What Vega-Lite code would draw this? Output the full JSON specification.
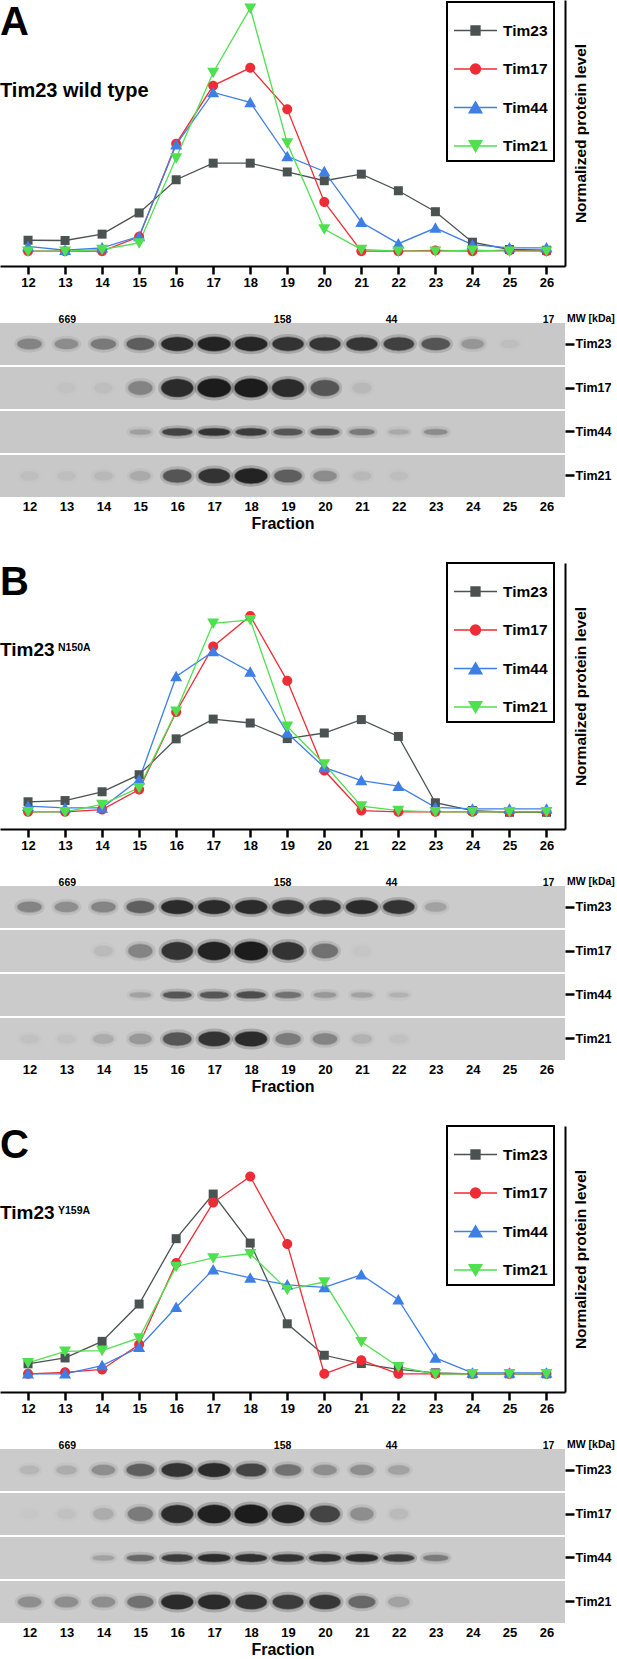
{
  "$schema": "https://vega.github.io/schema/vega-lite/v6.json",
  "padding": 0,
  "background": "white",
  "config": {
    "font": "Liberation Sans",
    "view": {"stroke": null},
    "axis": {"labelFont": "Liberation Sans", "titleFont": "Liberation Sans", "labelFontWeight": "bold", "titleFontWeight": "bold", "labelColor": "black", "titleColor": "black", "grid": false, "labelFlush": false, "labelOverlap": false},
    "legend": {"labelFont": "Liberation Sans"},
    "title": {"font": "Liberation Sans", "subtitleFont": "Liberation Sans", "fontWeight": "bold", "subtitleFontWeight": "bold", "color": "black", "subtitleColor": "black"},
    "point": {"opacity": 1}
  },
  "datasets": {
    "levelsA": [
      {"protein": "Tim23", "fraction": 12, "level": 4.5}, {"protein": "Tim23", "fraction": 13, "level": 4.4}, {"protein": "Tim23", "fraction": 14, "level": 7.0}, {"protein": "Tim23", "fraction": 15, "level": 15.7}, {"protein": "Tim23", "fraction": 16, "level": 29.3}, {"protein": "Tim23", "fraction": 17, "level": 36.1}, {"protein": "Tim23", "fraction": 18, "level": 36.1}, {"protein": "Tim23", "fraction": 19, "level": 32.5}, {"protein": "Tim23", "fraction": 20, "level": 28.9}, {"protein": "Tim23", "fraction": 21, "level": 31.6}, {"protein": "Tim23", "fraction": 22, "level": 24.8}, {"protein": "Tim23", "fraction": 23, "level": 16.2}, {"protein": "Tim23", "fraction": 24, "level": 3.7}, {"protein": "Tim23", "fraction": 25, "level": 0.7}, {"protein": "Tim23", "fraction": 26, "level": 0.4},
      {"protein": "Tim17", "fraction": 12, "level": 0}, {"protein": "Tim17", "fraction": 13, "level": 0}, {"protein": "Tim17", "fraction": 14, "level": 0}, {"protein": "Tim17", "fraction": 15, "level": 5.9}, {"protein": "Tim17", "fraction": 16, "level": 44.1}, {"protein": "Tim17", "fraction": 17, "level": 67.9}, {"protein": "Tim17", "fraction": 18, "level": 75.2}, {"protein": "Tim17", "fraction": 19, "level": 58.2}, {"protein": "Tim17", "fraction": 20, "level": 20.2}, {"protein": "Tim17", "fraction": 21, "level": 0}, {"protein": "Tim17", "fraction": 22, "level": 0}, {"protein": "Tim17", "fraction": 23, "level": 0.3}, {"protein": "Tim17", "fraction": 24, "level": 0}, {"protein": "Tim17", "fraction": 25, "level": 0.4}, {"protein": "Tim17", "fraction": 26, "level": 0},
      {"protein": "Tim44", "fraction": 12, "level": 2.0}, {"protein": "Tim44", "fraction": 13, "level": 0.4}, {"protein": "Tim44", "fraction": 14, "level": 1.4}, {"protein": "Tim44", "fraction": 15, "level": 6.1}, {"protein": "Tim44", "fraction": 16, "level": 43.7}, {"protein": "Tim44", "fraction": 17, "level": 65.1}, {"protein": "Tim44", "fraction": 18, "level": 61.0}, {"protein": "Tim44", "fraction": 19, "level": 38.9}, {"protein": "Tim44", "fraction": 20, "level": 32.7}, {"protein": "Tim44", "fraction": 21, "level": 11.9}, {"protein": "Tim44", "fraction": 22, "level": 3.1}, {"protein": "Tim44", "fraction": 23, "level": 9.5}, {"protein": "Tim44", "fraction": 24, "level": 2.7}, {"protein": "Tim44", "fraction": 25, "level": 1.4}, {"protein": "Tim44", "fraction": 26, "level": 1.4},
      {"protein": "Tim21", "fraction": 12, "level": 0}, {"protein": "Tim21", "fraction": 13, "level": 0}, {"protein": "Tim21", "fraction": 14, "level": 0.7}, {"protein": "Tim21", "fraction": 15, "level": 3.4}, {"protein": "Tim21", "fraction": 16, "level": 38.2}, {"protein": "Tim21", "fraction": 17, "level": 73.3}, {"protein": "Tim21", "fraction": 18, "level": 99.6}, {"protein": "Tim21", "fraction": 19, "level": 44.3}, {"protein": "Tim21", "fraction": 20, "level": 9.1}, {"protein": "Tim21", "fraction": 21, "level": 0.7}, {"protein": "Tim21", "fraction": 22, "level": 0}, {"protein": "Tim21", "fraction": 23, "level": 0}, {"protein": "Tim21", "fraction": 24, "level": 0.4}, {"protein": "Tim21", "fraction": 25, "level": 0}, {"protein": "Tim21", "fraction": 26, "level": 0}
    ],
    "levelsB": [
      {"protein": "Tim23", "fraction": 12, "level": 5.1}, {"protein": "Tim23", "fraction": 13, "level": 5.6}, {"protein": "Tim23", "fraction": 14, "level": 9.2}, {"protein": "Tim23", "fraction": 15, "level": 16.2}, {"protein": "Tim23", "fraction": 16, "level": 30.9}, {"protein": "Tim23", "fraction": 17, "level": 39.0}, {"protein": "Tim23", "fraction": 18, "level": 37.4}, {"protein": "Tim23", "fraction": 19, "level": 31.0}, {"protein": "Tim23", "fraction": 20, "level": 33.3}, {"protein": "Tim23", "fraction": 21, "level": 38.8}, {"protein": "Tim23", "fraction": 22, "level": 31.9}, {"protein": "Tim23", "fraction": 23, "level": 4.7}, {"protein": "Tim23", "fraction": 24, "level": 1.5}, {"protein": "Tim23", "fraction": 25, "level": 0.8}, {"protein": "Tim23", "fraction": 26, "level": 0.8},
      {"protein": "Tim17", "fraction": 12, "level": 1.0}, {"protein": "Tim17", "fraction": 13, "level": 1.0}, {"protein": "Tim17", "fraction": 14, "level": 1.9}, {"protein": "Tim17", "fraction": 15, "level": 10.1}, {"protein": "Tim17", "fraction": 16, "level": 41.9}, {"protein": "Tim17", "fraction": 17, "level": 68.8}, {"protein": "Tim17", "fraction": 18, "level": 81.3}, {"protein": "Tim17", "fraction": 19, "level": 54.7}, {"protein": "Tim17", "fraction": 20, "level": 17.9}, {"protein": "Tim17", "fraction": 21, "level": 1.5}, {"protein": "Tim17", "fraction": 22, "level": 1.0}, {"protein": "Tim17", "fraction": 23, "level": 1.0}, {"protein": "Tim17", "fraction": 24, "level": 1.0}, {"protein": "Tim17", "fraction": 25, "level": 1.0}, {"protein": "Tim17", "fraction": 26, "level": 1.0},
      {"protein": "Tim44", "fraction": 12, "level": 3.3}, {"protein": "Tim44", "fraction": 13, "level": 2.6}, {"protein": "Tim44", "fraction": 14, "level": 2.6}, {"protein": "Tim44", "fraction": 15, "level": 14.2}, {"protein": "Tim44", "fraction": 16, "level": 56.5}, {"protein": "Tim44", "fraction": 17, "level": 66.7}, {"protein": "Tim44", "fraction": 18, "level": 58.3}, {"protein": "Tim44", "fraction": 19, "level": 33.3}, {"protein": "Tim44", "fraction": 20, "level": 19.2}, {"protein": "Tim44", "fraction": 21, "level": 13.8}, {"protein": "Tim44", "fraction": 22, "level": 11.5}, {"protein": "Tim44", "fraction": 23, "level": 2.8}, {"protein": "Tim44", "fraction": 24, "level": 2.2}, {"protein": "Tim44", "fraction": 25, "level": 2.2}, {"protein": "Tim44", "fraction": 26, "level": 2.2},
      {"protein": "Tim21", "fraction": 12, "level": 1.0}, {"protein": "Tim21", "fraction": 13, "level": 1.0}, {"protein": "Tim21", "fraction": 14, "level": 4.0}, {"protein": "Tim21", "fraction": 15, "level": 10.8}, {"protein": "Tim21", "fraction": 16, "level": 42.2}, {"protein": "Tim21", "fraction": 17, "level": 78.3}, {"protein": "Tim21", "fraction": 18, "level": 79.7}, {"protein": "Tim21", "fraction": 19, "level": 36.0}, {"protein": "Tim21", "fraction": 20, "level": 20.6}, {"protein": "Tim21", "fraction": 21, "level": 3.3}, {"protein": "Tim21", "fraction": 22, "level": 1.5}, {"protein": "Tim21", "fraction": 23, "level": 1.0}, {"protein": "Tim21", "fraction": 24, "level": 1.0}, {"protein": "Tim21", "fraction": 25, "level": 1.0}, {"protein": "Tim21", "fraction": 26, "level": 1.0}
    ],
    "levelsC": [
      {"protein": "Tim23", "fraction": 12, "level": 5.5}, {"protein": "Tim23", "fraction": 13, "level": 7.9}, {"protein": "Tim23", "fraction": 14, "level": 14.7}, {"protein": "Tim23", "fraction": 15, "level": 30.0}, {"protein": "Tim23", "fraction": 16, "level": 56.8}, {"protein": "Tim23", "fraction": 17, "level": 75.1}, {"protein": "Tim23", "fraction": 18, "level": 55.0}, {"protein": "Tim23", "fraction": 19, "level": 21.9}, {"protein": "Tim23", "fraction": 20, "level": 9.0}, {"protein": "Tim23", "fraction": 21, "level": 5.6}, {"protein": "Tim23", "fraction": 22, "level": 3.2}, {"protein": "Tim23", "fraction": 23, "level": 1.8}, {"protein": "Tim23", "fraction": 24, "level": 1.4}, {"protein": "Tim23", "fraction": 25, "level": 1.4}, {"protein": "Tim23", "fraction": 26, "level": 1.4},
      {"protein": "Tim17", "fraction": 12, "level": 1.4}, {"protein": "Tim17", "fraction": 13, "level": 2.0}, {"protein": "Tim17", "fraction": 14, "level": 3.2}, {"protein": "Tim17", "fraction": 15, "level": 13.4}, {"protein": "Tim17", "fraction": 16, "level": 46.8}, {"protein": "Tim17", "fraction": 17, "level": 71.6}, {"protein": "Tim17", "fraction": 18, "level": 82.3}, {"protein": "Tim17", "fraction": 19, "level": 54.6}, {"protein": "Tim17", "fraction": 20, "level": 1.4}, {"protein": "Tim17", "fraction": 21, "level": 7.0}, {"protein": "Tim17", "fraction": 22, "level": 1.4}, {"protein": "Tim17", "fraction": 23, "level": 1.4}, {"protein": "Tim17", "fraction": 24, "level": 1.4}, {"protein": "Tim17", "fraction": 25, "level": 1.4}, {"protein": "Tim17", "fraction": 26, "level": 1.4},
      {"protein": "Tim44", "fraction": 12, "level": 1.4}, {"protein": "Tim44", "fraction": 13, "level": 1.4}, {"protein": "Tim44", "fraction": 14, "level": 4.8}, {"protein": "Tim44", "fraction": 15, "level": 12.3}, {"protein": "Tim44", "fraction": 16, "level": 28.7}, {"protein": "Tim44", "fraction": 17, "level": 44.1}, {"protein": "Tim44", "fraction": 18, "level": 40.7}, {"protein": "Tim44", "fraction": 19, "level": 37.9}, {"protein": "Tim44", "fraction": 20, "level": 36.8}, {"protein": "Tim44", "fraction": 21, "level": 42.0}, {"protein": "Tim44", "fraction": 22, "level": 31.8}, {"protein": "Tim44", "fraction": 23, "level": 7.9}, {"protein": "Tim44", "fraction": 24, "level": 1.8}, {"protein": "Tim44", "fraction": 25, "level": 1.8}, {"protein": "Tim44", "fraction": 26, "level": 1.8},
      {"protein": "Tim21", "fraction": 12, "level": 5.9}, {"protein": "Tim21", "fraction": 13, "level": 10.6}, {"protein": "Tim21", "fraction": 14, "level": 10.9}, {"protein": "Tim21", "fraction": 15, "level": 16.1}, {"protein": "Tim21", "fraction": 16, "level": 45.4}, {"protein": "Tim21", "fraction": 17, "level": 48.9}, {"protein": "Tim21", "fraction": 18, "level": 50.6}, {"protein": "Tim21", "fraction": 19, "level": 35.9}, {"protein": "Tim21", "fraction": 20, "level": 39.0}, {"protein": "Tim21", "fraction": 21, "level": 14.5}, {"protein": "Tim21", "fraction": 22, "level": 4.3}, {"protein": "Tim21", "fraction": 23, "level": 1.3}, {"protein": "Tim21", "fraction": 24, "level": 1.4}, {"protein": "Tim21", "fraction": 25, "level": 1.4}, {"protein": "Tim21", "fraction": 26, "level": 1.4}
    ],
    "bandsA": [
      {"protein": "Tim23", "fraction": 12, "intensity": 0.35}, {"protein": "Tim23", "fraction": 13, "intensity": 0.3}, {"protein": "Tim23", "fraction": 14, "intensity": 0.4}, {"protein": "Tim23", "fraction": 15, "intensity": 0.55}, {"protein": "Tim23", "fraction": 16, "intensity": 0.85}, {"protein": "Tim23", "fraction": 17, "intensity": 0.9}, {"protein": "Tim23", "fraction": 18, "intensity": 0.88}, {"protein": "Tim23", "fraction": 19, "intensity": 0.8}, {"protein": "Tim23", "fraction": 20, "intensity": 0.78}, {"protein": "Tim23", "fraction": 21, "intensity": 0.78}, {"protein": "Tim23", "fraction": 22, "intensity": 0.72}, {"protein": "Tim23", "fraction": 23, "intensity": 0.6}, {"protein": "Tim23", "fraction": 24, "intensity": 0.25}, {"protein": "Tim23", "fraction": 25, "intensity": 0.05},
      {"protein": "Tim17", "fraction": 13, "intensity": 0.03}, {"protein": "Tim17", "fraction": 14, "intensity": 0.05}, {"protein": "Tim17", "fraction": 15, "intensity": 0.35}, {"protein": "Tim17", "fraction": 16, "intensity": 0.85}, {"protein": "Tim17", "fraction": 17, "intensity": 0.95}, {"protein": "Tim17", "fraction": 18, "intensity": 0.95}, {"protein": "Tim17", "fraction": 19, "intensity": 0.85}, {"protein": "Tim17", "fraction": 20, "intensity": 0.6}, {"protein": "Tim17", "fraction": 21, "intensity": 0.08},
      {"protein": "Tim44", "fraction": 15, "intensity": 0.2}, {"protein": "Tim44", "fraction": 16, "intensity": 0.7}, {"protein": "Tim44", "fraction": 17, "intensity": 0.8}, {"protein": "Tim44", "fraction": 18, "intensity": 0.75}, {"protein": "Tim44", "fraction": 19, "intensity": 0.6}, {"protein": "Tim44", "fraction": 20, "intensity": 0.6}, {"protein": "Tim44", "fraction": 21, "intensity": 0.4}, {"protein": "Tim44", "fraction": 22, "intensity": 0.15}, {"protein": "Tim44", "fraction": 23, "intensity": 0.3},
      {"protein": "Tim21", "fraction": 12, "intensity": 0.05}, {"protein": "Tim21", "fraction": 13, "intensity": 0.05}, {"protein": "Tim21", "fraction": 14, "intensity": 0.08}, {"protein": "Tim21", "fraction": 15, "intensity": 0.15}, {"protein": "Tim21", "fraction": 16, "intensity": 0.6}, {"protein": "Tim21", "fraction": 17, "intensity": 0.8}, {"protein": "Tim21", "fraction": 18, "intensity": 0.9}, {"protein": "Tim21", "fraction": 19, "intensity": 0.55}, {"protein": "Tim21", "fraction": 20, "intensity": 0.3}, {"protein": "Tim21", "fraction": 21, "intensity": 0.08}, {"protein": "Tim21", "fraction": 22, "intensity": 0.05}
    ],
    "bandsB": [
      {"protein": "Tim23", "fraction": 12, "intensity": 0.35}, {"protein": "Tim23", "fraction": 13, "intensity": 0.3}, {"protein": "Tim23", "fraction": 14, "intensity": 0.35}, {"protein": "Tim23", "fraction": 15, "intensity": 0.55}, {"protein": "Tim23", "fraction": 16, "intensity": 0.85}, {"protein": "Tim23", "fraction": 17, "intensity": 0.85}, {"protein": "Tim23", "fraction": 18, "intensity": 0.85}, {"protein": "Tim23", "fraction": 19, "intensity": 0.8}, {"protein": "Tim23", "fraction": 20, "intensity": 0.8}, {"protein": "Tim23", "fraction": 21, "intensity": 0.85}, {"protein": "Tim23", "fraction": 22, "intensity": 0.8}, {"protein": "Tim23", "fraction": 23, "intensity": 0.2},
      {"protein": "Tim17", "fraction": 14, "intensity": 0.08}, {"protein": "Tim17", "fraction": 15, "intensity": 0.35}, {"protein": "Tim17", "fraction": 16, "intensity": 0.8}, {"protein": "Tim17", "fraction": 17, "intensity": 0.9}, {"protein": "Tim17", "fraction": 18, "intensity": 0.95}, {"protein": "Tim17", "fraction": 19, "intensity": 0.8}, {"protein": "Tim17", "fraction": 20, "intensity": 0.45}, {"protein": "Tim17", "fraction": 21, "intensity": 0.03},
      {"protein": "Tim44", "fraction": 15, "intensity": 0.2}, {"protein": "Tim44", "fraction": 16, "intensity": 0.6}, {"protein": "Tim44", "fraction": 17, "intensity": 0.6}, {"protein": "Tim44", "fraction": 18, "intensity": 0.65}, {"protein": "Tim44", "fraction": 19, "intensity": 0.45}, {"protein": "Tim44", "fraction": 20, "intensity": 0.25}, {"protein": "Tim44", "fraction": 21, "intensity": 0.2}, {"protein": "Tim44", "fraction": 22, "intensity": 0.12},
      {"protein": "Tim21", "fraction": 12, "intensity": 0.05}, {"protein": "Tim21", "fraction": 13, "intensity": 0.05}, {"protein": "Tim21", "fraction": 14, "intensity": 0.15}, {"protein": "Tim21", "fraction": 15, "intensity": 0.25}, {"protein": "Tim21", "fraction": 16, "intensity": 0.6}, {"protein": "Tim21", "fraction": 17, "intensity": 0.8}, {"protein": "Tim21", "fraction": 18, "intensity": 0.85}, {"protein": "Tim21", "fraction": 19, "intensity": 0.4}, {"protein": "Tim21", "fraction": 20, "intensity": 0.35}, {"protein": "Tim21", "fraction": 21, "intensity": 0.12}, {"protein": "Tim21", "fraction": 22, "intensity": 0.05}
    ],
    "bandsC": [
      {"protein": "Tim23", "fraction": 12, "intensity": 0.1}, {"protein": "Tim23", "fraction": 13, "intensity": 0.15}, {"protein": "Tim23", "fraction": 14, "intensity": 0.3}, {"protein": "Tim23", "fraction": 15, "intensity": 0.55}, {"protein": "Tim23", "fraction": 16, "intensity": 0.8}, {"protein": "Tim23", "fraction": 17, "intensity": 0.85}, {"protein": "Tim23", "fraction": 18, "intensity": 0.7}, {"protein": "Tim23", "fraction": 19, "intensity": 0.45}, {"protein": "Tim23", "fraction": 20, "intensity": 0.3}, {"protein": "Tim23", "fraction": 21, "intensity": 0.3}, {"protein": "Tim23", "fraction": 22, "intensity": 0.2},
      {"protein": "Tim17", "fraction": 12, "intensity": 0.02}, {"protein": "Tim17", "fraction": 13, "intensity": 0.05}, {"protein": "Tim17", "fraction": 14, "intensity": 0.15}, {"protein": "Tim17", "fraction": 15, "intensity": 0.4}, {"protein": "Tim17", "fraction": 16, "intensity": 0.85}, {"protein": "Tim17", "fraction": 17, "intensity": 0.92}, {"protein": "Tim17", "fraction": 18, "intensity": 0.95}, {"protein": "Tim17", "fraction": 19, "intensity": 0.9}, {"protein": "Tim17", "fraction": 20, "intensity": 0.7}, {"protein": "Tim17", "fraction": 21, "intensity": 0.3}, {"protein": "Tim17", "fraction": 22, "intensity": 0.08},
      {"protein": "Tim44", "fraction": 14, "intensity": 0.2}, {"protein": "Tim44", "fraction": 15, "intensity": 0.5}, {"protein": "Tim44", "fraction": 16, "intensity": 0.75}, {"protein": "Tim44", "fraction": 17, "intensity": 0.85}, {"protein": "Tim44", "fraction": 18, "intensity": 0.82}, {"protein": "Tim44", "fraction": 19, "intensity": 0.8}, {"protein": "Tim44", "fraction": 20, "intensity": 0.82}, {"protein": "Tim44", "fraction": 21, "intensity": 0.85}, {"protein": "Tim44", "fraction": 22, "intensity": 0.75}, {"protein": "Tim44", "fraction": 23, "intensity": 0.4},
      {"protein": "Tim21", "fraction": 12, "intensity": 0.3}, {"protein": "Tim21", "fraction": 13, "intensity": 0.3}, {"protein": "Tim21", "fraction": 14, "intensity": 0.3}, {"protein": "Tim21", "fraction": 15, "intensity": 0.45}, {"protein": "Tim21", "fraction": 16, "intensity": 0.85}, {"protein": "Tim21", "fraction": 17, "intensity": 0.85}, {"protein": "Tim21", "fraction": 18, "intensity": 0.8}, {"protein": "Tim21", "fraction": 19, "intensity": 0.75}, {"protein": "Tim21", "fraction": 20, "intensity": 0.78}, {"protein": "Tim21", "fraction": 21, "intensity": 0.5}, {"protein": "Tim21", "fraction": 22, "intensity": 0.2}
    ]
  },
  "resolve": {"scale": {"x": "independent", "y": "independent", "color": "independent", "fill": "independent", "stroke": "independent", "shape": "independent", "size": "independent"}},
  "spacing": 31,
  "vconcat": [
    {
      "bounds": "flush",
      "spacing": 57,
      "resolve": {"scale": {"x": "independent", "y": "independent", "color": "independent", "fill": "independent", "stroke": "independent", "shape": "independent", "size": "independent"}},
      "vconcat": [
        {
          "width": 565,
          "height": 266,
          "title": {"text": "A", "subtitle": "Tim23 wild type", "anchor": "start", "frame": "group", "fontSize": 40, "subtitleFontSize": 20, "subtitlePadding": 38.5, "offset": -101},
          "data": {"name": "levelsA"},
          "encoding": {
            "x": {"field": "fraction", "type": "quantitative", "scale": {"domain": [11.243, 26.5], "nice": false, "zero": false},
              "axis": {"values": [12, 13, 14, 15, 16, 17, 18, 19, 20, 21, 22, 23, 24, 25, 26], "domainColor": "black", "domainWidth": 2, "tickColor": "black", "tickWidth": 2.5, "tickSize": 8, "labelFontSize": 13, "labelPadding": 2, "title": null}},
            "y": {"field": "level", "type": "quantitative", "scale": {"domain": [-6.06, 103], "nice": false, "zero": false},
              "axis": {"orient": "right", "domainColor": "black", "domainWidth": 2, "ticks": false, "labels": false, "title": "Normalized protein level", "titleFontSize": 15.5, "titleAngle": 270, "titleBaseline": "top", "titlePadding": 8}}
          },
          "layer": [
            {"mark": {"type": "line", "strokeWidth": 1.3},
              "encoding": {"color": {"field": "protein", "type": "nominal", "scale": {"domain": ["Tim23", "Tim17", "Tim44", "Tim21"], "range": ["#4b5252", "#ee2c35", "#3e7fe6", "#4fe04f"]}, "legend": null}}},
            {"mark": {"type": "point", "filled": true, "size": 144},
              "encoding": {
                "color": {"field": "protein", "type": "nominal", "scale": {"domain": ["Tim23", "Tim17", "Tim44", "Tim21"], "range": ["#4b5252", "#ee2c35", "#3e7fe6", "#4fe04f"]}, "legend": null},
                "shape": {"field": "protein", "type": "nominal", "scale": {"domain": ["Tim23", "Tim17", "Tim44", "Tim21"], "range": ["M-0.75,-0.75H0.75V0.75H-0.75Z", "M0.83,0A0.83,0.83,0,1,1,-0.83,0A0.83,0.83,0,1,1,0.83,0Z", "M0,-0.95L1,0.8H-1Z", "M0,0.95L1,-0.8H-1Z"]}, "legend": null}}},
            {"transform": [{"filter": "datum.fraction > 99"}],
              "mark": {"type": "point", "filled": true, "size": 1849, "strokeWidth": 1.3},
              "encoding": {
                "fill": {"field": "protein", "type": "nominal", "scale": {"domain": ["Tim23", "Tim17", "Tim44", "Tim21"], "range": ["#4b5252", "#ee2c35", "#3e7fe6", "#4fe04f"]},
                  "legend": {"orient": "none", "legendX": 447, "legendY": 2, "title": null, "padding": 6, "strokeColor": "black", "fillColor": "white", "symbolSize": 1849, "symbolStrokeWidth": 1.3, "symbolOpacity": 1, "labelFontSize": 15.5, "labelFontWeight": "bold", "labelColor": "black", "labelOffset": 5, "rowPadding": 7.5, "encode": {"legend": {"update": {"strokeWidth": {"value": 2}}}}}},
                "stroke": {"field": "protein", "type": "nominal", "scale": {"domain": ["Tim23", "Tim17", "Tim44", "Tim21"], "range": ["#4b5252", "#ee2c35", "#3e7fe6", "#4fe04f"]}},
                "shape": {"field": "protein", "type": "nominal", "scale": {"domain": ["Tim23", "Tim17", "Tim44", "Tim21"], "range": ["M-1,0H1M-0.21,-0.21H0.21V0.21H-0.21Z", "M-1,0H1M0.233,0A0.233,0.233,0,1,1,-0.233,0A0.233,0.233,0,1,1,0.233,0Z", "M-1,0H1M0,-0.27L0.3,0.25H-0.3Z", "M-1,0H1M0,0.27L0.3,-0.25H-0.3Z"]}}}}
          ],
          "resolve": {"scale": {"shape": "independent", "fill": "independent", "stroke": "independent"}}
        },
        {
          "width": 565,
          "height": 174,
          "title": {"text": "MW [kDa]", "anchor": "end", "align": "left", "frame": "group", "fontSize": 10.5, "offset": -10.5, "dx": 2},
          "data": {"name": "bandsA"},
          "encoding": {
            "y": {"field": "protein", "type": "nominal", "scale": {"domain": ["Tim23", "Tim17", "Tim44", "Tim21"], "paddingInner": 0.045, "paddingOuter": 0},
              "axis": {"orient": "right", "domain": false, "tickSize": 9, "tickWidth": 2.5, "tickColor": "black", "labelPadding": 1, "labelFontSize": 12.5, "title": null}}
          },
          "layer": [
            {"mark": {"type": "rect", "color": "#c8c8c8"}},
            {"mark": {"type": "point", "filled": true, "strokeWidth": 7, "strokeOpacity": 0.22},
              "encoding": {
                "x": {"field": "fraction", "type": "quantitative", "scale": {"domain": [11.2, 26.5], "nice": false, "zero": false},
                  "axis": {"orient": "bottom", "values": [12, 13, 14, 15, 16, 17, 18, 19, 20, 21, 22, 23, 24, 25, 26], "domain": false, "ticks": false, "labelPadding": 3, "labelFontSize": 13, "title": "Fraction", "titleFontSize": 16, "titlePadding": 2}},
                "fill": {"field": "intensity", "type": "quantitative", "scale": {"domain": [0, 1], "range": ["#c8c8c8", "#141414"]}, "legend": null},
                "stroke": {"field": "intensity", "type": "quantitative", "scale": {"domain": [0, 1], "range": ["#c8c8c8", "#141414"]}, "legend": null},
                "size": {"field": "intensity", "type": "quantitative", "scale": {"domain": [0, 1], "range": [260, 1100]}, "legend": null},
                "shape": {"field": "protein", "type": "nominal", "scale": {"domain": ["Tim23", "Tim17", "Tim44", "Tim21"], "range": ["M-1,0A1,0.42,0,1,1,1,0A1,0.42,0,1,1,-1,0Z", "M-1,0A1,0.55,0,1,1,1,0A1,0.55,0,1,1,-1,0Z", "M-1,0A1,0.22,0,1,1,1,0A1,0.22,0,1,1,-1,0Z", "M-1,0A1,0.45,0,1,1,1,0A1,0.45,0,1,1,-1,0Z"]}, "legend": null}}},
            {"mark": {"type": "point", "filled": true, "strokeWidth": 2, "strokeOpacity": 0.5},
              "encoding": {
                "x": {"field": "fraction", "type": "quantitative", "scale": {"domain": [11.2, 26.5], "nice": false, "zero": false},
                  "axis": {"orient": "top", "values": [13.01, 18.84, 21.79, 26.04], "labelExpr": "datum.value < 14 ? '669' : datum.value < 20 ? '158' : datum.value < 23 ? '44' : '17'", "domain": false, "ticks": false, "labelPadding": 1, "labelBaseline": "alphabetic", "labelFontSize": 10.5, "title": null}},
                "fill": {"field": "intensity", "type": "quantitative", "scale": {"domain": [0, 1], "range": ["#c8c8c8", "#141414"]}, "legend": null},
                "stroke": {"field": "intensity", "type": "quantitative", "scale": {"domain": [0, 1], "range": ["#c8c8c8", "#141414"]}, "legend": null},
                "size": {"field": "intensity", "type": "quantitative", "scale": {"domain": [0, 1], "range": [260, 1100]}, "legend": null},
                "shape": {"field": "protein", "type": "nominal", "scale": {"domain": ["Tim23", "Tim17", "Tim44", "Tim21"], "range": ["M-1,0A1,0.42,0,1,1,1,0A1,0.42,0,1,1,-1,0Z", "M-1,0A1,0.55,0,1,1,1,0A1,0.55,0,1,1,-1,0Z", "M-1,0A1,0.22,0,1,1,1,0A1,0.22,0,1,1,-1,0Z", "M-1,0A1,0.45,0,1,1,1,0A1,0.45,0,1,1,-1,0Z"]}, "legend": null}}}
          ],
          "resolve": {"axis": {"x": "independent"}}
        }
      ]
    },
    {
      "bounds": "flush",
      "spacing": 57,
      "resolve": {"scale": {"x": "independent", "y": "independent", "color": "independent", "fill": "independent", "stroke": "independent", "shape": "independent", "size": "independent"}},
      "vconcat": [
        {
          "width": 565,
          "height": 266,
          "title": {"text": "B", "subtitle": "Tim23", "anchor": "start", "frame": "group", "fontSize": 40, "subtitleFontSize": 19, "subtitlePadding": 38.4, "offset": -98.4},
          "data": {"name": "levelsB"},
          "encoding": {
            "x": {"field": "fraction", "type": "quantitative", "scale": {"domain": [11.243, 26.5], "nice": false, "zero": false},
              "axis": {"values": [12, 13, 14, 15, 16, 17, 18, 19, 20, 21, 22, 23, 24, 25, 26], "domainColor": "black", "domainWidth": 2, "tickColor": "black", "tickWidth": 2.5, "tickSize": 8, "labelFontSize": 13, "labelPadding": 2, "title": "N150A", "titleX": 57.5, "titleY": -179, "titleAlign": "left", "titleBaseline": "alphabetic", "titleAngle": 0, "titleFontSize": 10.5}},
            "y": {"field": "level", "type": "quantitative", "scale": {"domain": [-6.06, 103], "nice": false, "zero": false},
              "axis": {"orient": "right", "domainColor": "black", "domainWidth": 2, "ticks": false, "labels": false, "title": "Normalized protein level", "titleFontSize": 15.5, "titleAngle": 270, "titleBaseline": "top", "titlePadding": 8}}
          },
          "layer": [
            {"mark": {"type": "line", "strokeWidth": 1.3},
              "encoding": {"color": {"field": "protein", "type": "nominal", "scale": {"domain": ["Tim23", "Tim17", "Tim44", "Tim21"], "range": ["#4b5252", "#ee2c35", "#3e7fe6", "#4fe04f"]}, "legend": null}}},
            {"mark": {"type": "point", "filled": true, "size": 144},
              "encoding": {
                "color": {"field": "protein", "type": "nominal", "scale": {"domain": ["Tim23", "Tim17", "Tim44", "Tim21"], "range": ["#4b5252", "#ee2c35", "#3e7fe6", "#4fe04f"]}, "legend": null},
                "shape": {"field": "protein", "type": "nominal", "scale": {"domain": ["Tim23", "Tim17", "Tim44", "Tim21"], "range": ["M-0.75,-0.75H0.75V0.75H-0.75Z", "M0.83,0A0.83,0.83,0,1,1,-0.83,0A0.83,0.83,0,1,1,0.83,0Z", "M0,-0.95L1,0.8H-1Z", "M0,0.95L1,-0.8H-1Z"]}, "legend": null}}},
            {"transform": [{"filter": "datum.fraction > 99"}],
              "mark": {"type": "point", "filled": true, "size": 1849, "strokeWidth": 1.3},
              "encoding": {
                "fill": {"field": "protein", "type": "nominal", "scale": {"domain": ["Tim23", "Tim17", "Tim44", "Tim21"], "range": ["#4b5252", "#ee2c35", "#3e7fe6", "#4fe04f"]},
                  "legend": {"orient": "none", "legendX": 447, "legendY": 0, "title": null, "padding": 6, "strokeColor": "black", "fillColor": "white", "symbolSize": 1849, "symbolStrokeWidth": 1.3, "symbolOpacity": 1, "labelFontSize": 15.5, "labelFontWeight": "bold", "labelColor": "black", "labelOffset": 5, "rowPadding": 7.5, "encode": {"legend": {"update": {"strokeWidth": {"value": 2}}}}}},
                "stroke": {"field": "protein", "type": "nominal", "scale": {"domain": ["Tim23", "Tim17", "Tim44", "Tim21"], "range": ["#4b5252", "#ee2c35", "#3e7fe6", "#4fe04f"]}},
                "shape": {"field": "protein", "type": "nominal", "scale": {"domain": ["Tim23", "Tim17", "Tim44", "Tim21"], "range": ["M-1,0H1M-0.21,-0.21H0.21V0.21H-0.21Z", "M-1,0H1M0.233,0A0.233,0.233,0,1,1,-0.233,0A0.233,0.233,0,1,1,0.233,0Z", "M-1,0H1M0,-0.27L0.3,0.25H-0.3Z", "M-1,0H1M0,0.27L0.3,-0.25H-0.3Z"]}}}}
          ],
          "resolve": {"scale": {"shape": "independent", "fill": "independent", "stroke": "independent"}}
        },
        {
          "width": 565,
          "height": 174,
          "title": {"text": "MW [kDa]", "anchor": "end", "align": "left", "frame": "group", "fontSize": 10.5, "offset": -10.5, "dx": 2},
          "data": {"name": "bandsB"},
          "encoding": {
            "y": {"field": "protein", "type": "nominal", "scale": {"domain": ["Tim23", "Tim17", "Tim44", "Tim21"], "paddingInner": 0.045, "paddingOuter": 0},
              "axis": {"orient": "right", "domain": false, "tickSize": 9, "tickWidth": 2.5, "tickColor": "black", "labelPadding": 1, "labelFontSize": 12.5, "title": null}}
          },
          "layer": [
            {"mark": {"type": "rect", "color": "#cbcbcb"}},
            {"mark": {"type": "point", "filled": true, "strokeWidth": 7, "strokeOpacity": 0.22},
              "encoding": {
                "x": {"field": "fraction", "type": "quantitative", "scale": {"domain": [11.2, 26.5], "nice": false, "zero": false},
                  "axis": {"orient": "bottom", "values": [12, 13, 14, 15, 16, 17, 18, 19, 20, 21, 22, 23, 24, 25, 26], "domain": false, "ticks": false, "labelPadding": 3, "labelFontSize": 13, "title": "Fraction", "titleFontSize": 16, "titlePadding": 2}},
                "fill": {"field": "intensity", "type": "quantitative", "scale": {"domain": [0, 1], "range": ["#cbcbcb", "#141414"]}, "legend": null},
                "stroke": {"field": "intensity", "type": "quantitative", "scale": {"domain": [0, 1], "range": ["#cbcbcb", "#141414"]}, "legend": null},
                "size": {"field": "intensity", "type": "quantitative", "scale": {"domain": [0, 1], "range": [260, 1100]}, "legend": null},
                "shape": {"field": "protein", "type": "nominal", "scale": {"domain": ["Tim23", "Tim17", "Tim44", "Tim21"], "range": ["M-1,0A1,0.42,0,1,1,1,0A1,0.42,0,1,1,-1,0Z", "M-1,0A1,0.55,0,1,1,1,0A1,0.55,0,1,1,-1,0Z", "M-1,0A1,0.22,0,1,1,1,0A1,0.22,0,1,1,-1,0Z", "M-1,0A1,0.45,0,1,1,1,0A1,0.45,0,1,1,-1,0Z"]}, "legend": null}}},
            {"mark": {"type": "point", "filled": true, "strokeWidth": 2, "strokeOpacity": 0.5},
              "encoding": {
                "x": {"field": "fraction", "type": "quantitative", "scale": {"domain": [11.2, 26.5], "nice": false, "zero": false},
                  "axis": {"orient": "top", "values": [13.01, 18.84, 21.79, 26.04], "labelExpr": "datum.value < 14 ? '669' : datum.value < 20 ? '158' : datum.value < 23 ? '44' : '17'", "domain": false, "ticks": false, "labelPadding": 1, "labelBaseline": "alphabetic", "labelFontSize": 10.5, "title": null}},
                "fill": {"field": "intensity", "type": "quantitative", "scale": {"domain": [0, 1], "range": ["#cbcbcb", "#141414"]}, "legend": null},
                "stroke": {"field": "intensity", "type": "quantitative", "scale": {"domain": [0, 1], "range": ["#cbcbcb", "#141414"]}, "legend": null},
                "size": {"field": "intensity", "type": "quantitative", "scale": {"domain": [0, 1], "range": [260, 1100]}, "legend": null},
                "shape": {"field": "protein", "type": "nominal", "scale": {"domain": ["Tim23", "Tim17", "Tim44", "Tim21"], "range": ["M-1,0A1,0.42,0,1,1,1,0A1,0.42,0,1,1,-1,0Z", "M-1,0A1,0.55,0,1,1,1,0A1,0.55,0,1,1,-1,0Z", "M-1,0A1,0.22,0,1,1,1,0A1,0.22,0,1,1,-1,0Z", "M-1,0A1,0.45,0,1,1,1,0A1,0.45,0,1,1,-1,0Z"]}, "legend": null}}}
          ],
          "resolve": {"axis": {"x": "independent"}}
        }
      ]
    },
    {
      "bounds": "flush",
      "spacing": 57,
      "resolve": {"scale": {"x": "independent", "y": "independent", "color": "independent", "fill": "independent", "stroke": "independent", "shape": "independent", "size": "independent"}},
      "vconcat": [
        {
          "width": 565,
          "height": 266,
          "title": {"text": "C", "subtitle": "Tim23", "anchor": "start", "frame": "group", "fontSize": 40, "subtitleFontSize": 19, "subtitlePadding": 38.4, "offset": -98.4},
          "data": {"name": "levelsC"},
          "encoding": {
            "x": {"field": "fraction", "type": "quantitative", "scale": {"domain": [11.243, 26.5], "nice": false, "zero": false},
              "axis": {"values": [12, 13, 14, 15, 16, 17, 18, 19, 20, 21, 22, 23, 24, 25, 26], "domainColor": "black", "domainWidth": 2, "tickColor": "black", "tickWidth": 2.5, "tickSize": 8, "labelFontSize": 13, "labelPadding": 2, "title": "Y159A", "titleX": 57.5, "titleY": -179, "titleAlign": "left", "titleBaseline": "alphabetic", "titleAngle": 0, "titleFontSize": 10.5}},
            "y": {"field": "level", "type": "quantitative", "scale": {"domain": [-6.06, 103], "nice": false, "zero": false},
              "axis": {"orient": "right", "domainColor": "black", "domainWidth": 2, "ticks": false, "labels": false, "title": "Normalized protein level", "titleFontSize": 15.5, "titleAngle": 270, "titleBaseline": "top", "titlePadding": 8}}
          },
          "layer": [
            {"mark": {"type": "line", "strokeWidth": 1.3},
              "encoding": {"color": {"field": "protein", "type": "nominal", "scale": {"domain": ["Tim23", "Tim17", "Tim44", "Tim21"], "range": ["#4b5252", "#ee2c35", "#3e7fe6", "#4fe04f"]}, "legend": null}}},
            {"mark": {"type": "point", "filled": true, "size": 144},
              "encoding": {
                "color": {"field": "protein", "type": "nominal", "scale": {"domain": ["Tim23", "Tim17", "Tim44", "Tim21"], "range": ["#4b5252", "#ee2c35", "#3e7fe6", "#4fe04f"]}, "legend": null},
                "shape": {"field": "protein", "type": "nominal", "scale": {"domain": ["Tim23", "Tim17", "Tim44", "Tim21"], "range": ["M-0.75,-0.75H0.75V0.75H-0.75Z", "M0.83,0A0.83,0.83,0,1,1,-0.83,0A0.83,0.83,0,1,1,0.83,0Z", "M0,-0.95L1,0.8H-1Z", "M0,0.95L1,-0.8H-1Z"]}, "legend": null}}},
            {"transform": [{"filter": "datum.fraction > 99"}],
              "mark": {"type": "point", "filled": true, "size": 1849, "strokeWidth": 1.3},
              "encoding": {
                "fill": {"field": "protein", "type": "nominal", "scale": {"domain": ["Tim23", "Tim17", "Tim44", "Tim21"], "range": ["#4b5252", "#ee2c35", "#3e7fe6", "#4fe04f"]},
                  "legend": {"orient": "none", "legendX": 447, "legendY": 0, "title": null, "padding": 6, "strokeColor": "black", "fillColor": "white", "symbolSize": 1849, "symbolStrokeWidth": 1.3, "symbolOpacity": 1, "labelFontSize": 15.5, "labelFontWeight": "bold", "labelColor": "black", "labelOffset": 5, "rowPadding": 7.5, "encode": {"legend": {"update": {"strokeWidth": {"value": 2}}}}}},
                "stroke": {"field": "protein", "type": "nominal", "scale": {"domain": ["Tim23", "Tim17", "Tim44", "Tim21"], "range": ["#4b5252", "#ee2c35", "#3e7fe6", "#4fe04f"]}},
                "shape": {"field": "protein", "type": "nominal", "scale": {"domain": ["Tim23", "Tim17", "Tim44", "Tim21"], "range": ["M-1,0H1M-0.21,-0.21H0.21V0.21H-0.21Z", "M-1,0H1M0.233,0A0.233,0.233,0,1,1,-0.233,0A0.233,0.233,0,1,1,0.233,0Z", "M-1,0H1M0,-0.27L0.3,0.25H-0.3Z", "M-1,0H1M0,0.27L0.3,-0.25H-0.3Z"]}}}}
          ],
          "resolve": {"scale": {"shape": "independent", "fill": "independent", "stroke": "independent"}}
        },
        {
          "width": 565,
          "height": 174,
          "title": {"text": "MW [kDa]", "anchor": "end", "align": "left", "frame": "group", "fontSize": 10.5, "offset": -10.5, "dx": 2},
          "data": {"name": "bandsC"},
          "encoding": {
            "y": {"field": "protein", "type": "nominal", "scale": {"domain": ["Tim23", "Tim17", "Tim44", "Tim21"], "paddingInner": 0.045, "paddingOuter": 0},
              "axis": {"orient": "right", "domain": false, "tickSize": 9, "tickWidth": 2.5, "tickColor": "black", "labelPadding": 1, "labelFontSize": 12.5, "title": null}}
          },
          "layer": [
            {"mark": {"type": "rect", "color": "#cbcbcb"}},
            {"mark": {"type": "point", "filled": true, "strokeWidth": 7, "strokeOpacity": 0.22},
              "encoding": {
                "x": {"field": "fraction", "type": "quantitative", "scale": {"domain": [11.2, 26.5], "nice": false, "zero": false},
                  "axis": {"orient": "bottom", "values": [12, 13, 14, 15, 16, 17, 18, 19, 20, 21, 22, 23, 24, 25, 26], "domain": false, "ticks": false, "labelPadding": 3, "labelFontSize": 13, "title": "Fraction", "titleFontSize": 16, "titlePadding": 2}},
                "fill": {"field": "intensity", "type": "quantitative", "scale": {"domain": [0, 1], "range": ["#cbcbcb", "#141414"]}, "legend": null},
                "stroke": {"field": "intensity", "type": "quantitative", "scale": {"domain": [0, 1], "range": ["#cbcbcb", "#141414"]}, "legend": null},
                "size": {"field": "intensity", "type": "quantitative", "scale": {"domain": [0, 1], "range": [260, 1100]}, "legend": null},
                "shape": {"field": "protein", "type": "nominal", "scale": {"domain": ["Tim23", "Tim17", "Tim44", "Tim21"], "range": ["M-1,0A1,0.42,0,1,1,1,0A1,0.42,0,1,1,-1,0Z", "M-1,0A1,0.55,0,1,1,1,0A1,0.55,0,1,1,-1,0Z", "M-1,0A1,0.22,0,1,1,1,0A1,0.22,0,1,1,-1,0Z", "M-1,0A1,0.45,0,1,1,1,0A1,0.45,0,1,1,-1,0Z"]}, "legend": null}}},
            {"mark": {"type": "point", "filled": true, "strokeWidth": 2, "strokeOpacity": 0.5},
              "encoding": {
                "x": {"field": "fraction", "type": "quantitative", "scale": {"domain": [11.2, 26.5], "nice": false, "zero": false},
                  "axis": {"orient": "top", "values": [13.01, 18.84, 21.79, 26.04], "labelExpr": "datum.value < 14 ? '669' : datum.value < 20 ? '158' : datum.value < 23 ? '44' : '17'", "domain": false, "ticks": false, "labelPadding": 1, "labelBaseline": "alphabetic", "labelFontSize": 10.5, "title": null}},
                "fill": {"field": "intensity", "type": "quantitative", "scale": {"domain": [0, 1], "range": ["#cbcbcb", "#141414"]}, "legend": null},
                "stroke": {"field": "intensity", "type": "quantitative", "scale": {"domain": [0, 1], "range": ["#cbcbcb", "#141414"]}, "legend": null},
                "size": {"field": "intensity", "type": "quantitative", "scale": {"domain": [0, 1], "range": [260, 1100]}, "legend": null},
                "shape": {"field": "protein", "type": "nominal", "scale": {"domain": ["Tim23", "Tim17", "Tim44", "Tim21"], "range": ["M-1,0A1,0.42,0,1,1,1,0A1,0.42,0,1,1,-1,0Z", "M-1,0A1,0.55,0,1,1,1,0A1,0.55,0,1,1,-1,0Z", "M-1,0A1,0.22,0,1,1,1,0A1,0.22,0,1,1,-1,0Z", "M-1,0A1,0.45,0,1,1,1,0A1,0.45,0,1,1,-1,0Z"]}, "legend": null}}}
          ],
          "resolve": {"axis": {"x": "independent"}}
        }
      ]
    }
  ]
}
